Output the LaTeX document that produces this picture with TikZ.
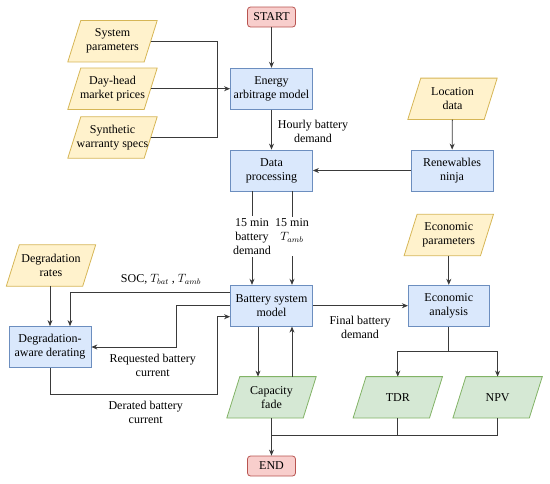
\documentclass[tikz,border=0pt]{standalone}
\usepackage{fontspec}
\setmainfont{Liberation Serif}
\usetikzlibrary{arrows.meta,backgrounds,calc}
\definecolor{bfill}{HTML}{DAE8FC}\definecolor{bdraw}{HTML}{6C8EBF}
\definecolor{yfill}{HTML}{FFF2CC}\definecolor{ydraw}{HTML}{D6B656}
\definecolor{gfill}{HTML}{D5E8D4}\definecolor{gdraw}{HTML}{82B366}
\definecolor{pfill}{HTML}{F8CECC}\definecolor{pdraw}{HTML}{B85450}
\definecolor{lin}{HTML}{3A3A3A}
\tikzset{
  txt/.style={font=\fontsize{12}{14}\selectfont, align=center, text=black},
  proc/.style={txt, draw=bdraw, fill=bfill, line width=0.8pt, minimum width=82, minimum height=41, inner sep=1pt},
  term/.style={txt, draw=pdraw, fill=pfill, line width=0.8pt, rounded corners=3pt, minimum width=48, minimum height=20, inner sep=1pt},
  para/.style={txt, minimum width=76, minimum height=41, inner sep=1pt},
  lbl/.style={txt, fill=white, inner sep=2pt},
  conn/.style={draw=lin, line width=0.8pt},
  arr/.style={conn, -{Stealth[length=6pt,width=5pt]}},
}
\newcommand{\parashape}[3]{%
  \fill[#2] ([xshift=6.5]#1.north west) -- ([xshift=6.5]#1.north east) -- ([xshift=-6.5]#1.south east) -- ([xshift=-6.5]#1.south west) -- cycle;
  \draw[#3, line width=0.8pt] ([xshift=6.5]#1.north west) -- ([xshift=6.5]#1.north east) -- ([xshift=-6.5]#1.south east) -- ([xshift=-6.5]#1.south west) -- cycle;}
\begin{document}
\begin{tikzpicture}[x=1pt,y=-1pt]
\useasboundingbox (0,0) rectangle (550,483);
% nodes
\node[term] (start) at (271.5,17) {START};
\node[proc] (eam) at (271.5,88.7) {Energy\\arbitrage model};
\node[proc] (dp) at (271.5,170.5) {Data\\processing};
\node[proc] (rn) at (452,170.5) {Renewables\\ninja};
\node[para] (loc) at (452.5,98.8) {Location\\data};
\node[para] (sp) at (112.5,41.2) {System\\parameters};
\node[para] (dh) at (112.5,88.7) {Day-head\\market prices};
\node[para] (sw) at (112.5,137.5) {Synthetic\\warranty specs};
\node[proc] (bsm) at (271.5,305.7) {Battery system\\model};
\node[para] (cf) at (271.5,397.3) {Capacity\\fade};
\node[term] (endn) at (271.5,466) {END};
\node[para] (ep) at (448.8,235) {Economic\\parameters};
\node[proc, minimum width=81] (ea) at (448.8,305.7) {Economic\\analysis};
\node[para] (tdr) at (397.8,397.3) {TDR};
\node[para] (npv) at (497.6,397.3) {NPV};
\node[para] (dr) at (51,265.5) {Degradation\\rates};
\node[proc] (dad) at (50,347) {Degradation-\\aware derating};
\begin{scope}[on background layer]
\parashape{loc}{yfill}{ydraw}
\parashape{sp}{yfill}{ydraw}
\parashape{dh}{yfill}{ydraw}
\parashape{sw}{yfill}{ydraw}
\parashape{ep}{yfill}{ydraw}
\parashape{dr}{yfill}{ydraw}
\parashape{cf}{gfill}{gdraw}
\parashape{tdr}{gfill}{gdraw}
\parashape{npv}{gfill}{gdraw}
\end{scope}
% coordinates
\coordinate (jn) at (217.7,88.7);
\coordinate (cfj) at (271.5,435);
\coordinate (eaj) at (448.8,351.7);
\coordinate (rq) at (176.7,305.7);
\coordinate (dj) at (217.7,394);
% connectors
\draw[arr] (start) -- (eam);
\draw[conn] (sp.east) -| (jn);
\draw[conn] (sw.east) -| (jn);
\draw[arr] (dh.east) -- (eam.west);
\draw[arr] (eam) -- (dp);
\draw[arr] (loc) -- (rn);
\draw[arr] (rn) -- (dp);
\draw[arr] ([xshift=-19.5]dp.south) -- ([xshift=-19.5]bsm.north);
\draw[arr] ([xshift=20.5]dp.south) -- ([xshift=20.5]bsm.north);
\draw[arr] ([xshift=-13.5]bsm.south) -- ([xshift=-13.5]cf.north);
\draw[arr] ([xshift=20.5]cf.north) -- ([xshift=20.5]bsm.south);
\draw[arr] (cf.south) -- (endn.north);
\draw[conn] (tdr.south) -- (tdr.south |- cfj);
\draw[conn] (npv.south) |- (cfj);
\draw[arr] (bsm.east) -- (ea.west);
\draw[arr] (ep) -- (ea);
\draw[conn] (ea.south) -- (eaj);
\draw[arr] (eaj) -| (tdr.north);
\draw[arr] (eaj) -| (npv.north);
\draw[arr] (dr.south -| dad.north) -- (dad.north);
\draw[arr] ([yshift=13]bsm.west) -| ([xshift=20]dad.north);
\draw[arr] (bsm.west) -- (rq) |- (dad.east);
\draw[arr] (dad.south) |- (dj) |- ([yshift=-11]bsm.west);
% labels
\node[txt] (l1) at (313,131.5) {Hourly battery\\demand};
\node[lbl] (l2) at (252,236.5) {15 min\\battery\\demand};
\node[lbl] (l3) at (292,236.5) {15 min\\$T_{amb}$\\\mbox{}};
\node[txt] (l4) at (360,327) {Final battery\\demand};
\node[txt] (l5) at (161,279.5) {SOC, $T_{bat}$ , $T_{amb}$};
\node[txt] (l6) at (152.7,365) {Requested battery\\current};
\node[txt] (l7) at (145.7,412) {Derated battery\\current};
\end{tikzpicture}
\end{document}
